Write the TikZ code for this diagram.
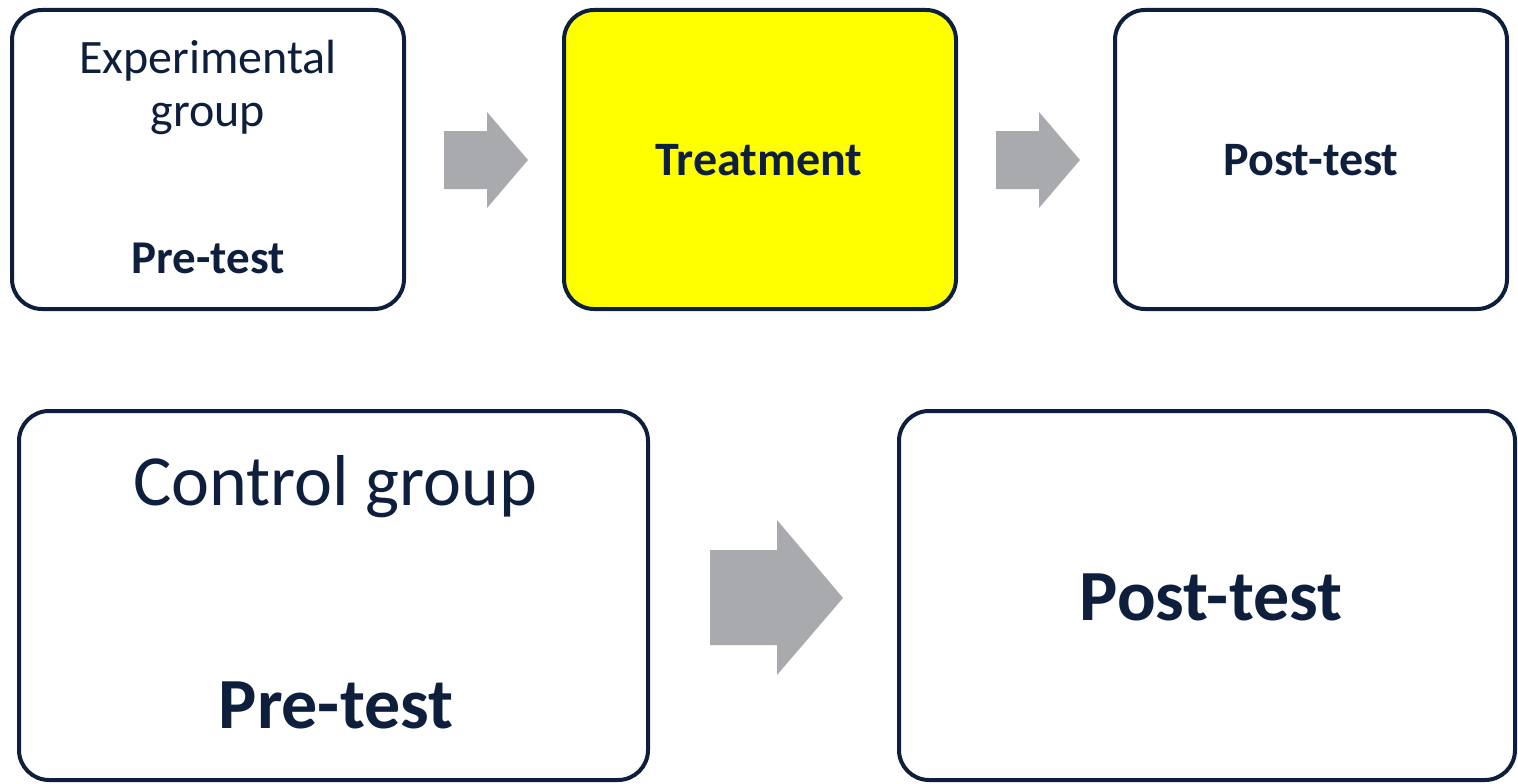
\documentclass[tikz,border=0pt]{standalone}
\usepackage{fontspec}
\setmainfont{Carlito}
\definecolor{navy}{HTML}{0D1F3C}
\definecolor{arrowgray}{HTML}{A9AAAD}
\definecolor{treatyellow}{HTML}{FFFF00}
\begin{document}
\begin{tikzpicture}[x=1pt,y=-1pt,
  box/.style={draw=navy,line width=4pt,rounded corners=30pt,fill=white,inner sep=0pt},
  txt/.style={text=navy,align=center,inner sep=0pt},
  blockarrow/.style={fill=arrowgray}]
\useasboundingbox (0,0) rectangle (1518,784);
% top row
\node[box,minimum width=392pt,minimum height=299pt] (exp) at (208,159.5) {};
\node[box,fill=treatyellow,minimum width=392pt,minimum height=299pt] (treat) at (760,159.5) {};
\node[box,minimum width=392pt,minimum height=299pt] (post1) at (1311,159.5) {};
\node[txt,font=\fontsize{48}{53}\selectfont] (explbl) at (208,87) {Experimental\\group};
\node[txt,font=\fontsize{47}{56}\selectfont\bfseries] (pre1) at (208,258) {Pre-test};
\node[txt,font=\fontsize{48}{56}\selectfont\bfseries] (treatlbl) at (759,160) {Treatment};
\node[txt,font=\fontsize{48}{56}\selectfont\bfseries] (post1lbl) at (1311,160) {Post-test};
% bottom row
\node[box,minimum width=629pt,minimum height=369pt] (ctrl) at (333.5,595.5) {};
\node[box,minimum width=616pt,minimum height=369pt] (post2) at (1207,595.5) {};
\node[txt,font=\fontsize{72}{86}\selectfont] (ctrllbl) at (335,487) {Control group};
\node[txt,font=\fontsize{72}{86}\selectfont\bfseries] (pre2) at (336,705) {Pre-test};
\node[txt,font=\fontsize{72}{86}\selectfont\bfseries] (post2lbl) at (1211,597) {Post-test};
% arrows
\fill[blockarrow] (444,131) -- (487,131) -- (487,112) -- (528,160) -- (487,208) -- (487,189) -- (444,189) -- cycle;
\fill[blockarrow] (996,131) -- (1039,131) -- (1039,112) -- (1080,160) -- (1039,208) -- (1039,189) -- (996,189) -- cycle;
\fill[blockarrow] (710,550) -- (777,550) -- (777,520) -- (843,598) -- (777,675) -- (777,645) -- (710,645) -- cycle;
\end{tikzpicture}
\end{document}
